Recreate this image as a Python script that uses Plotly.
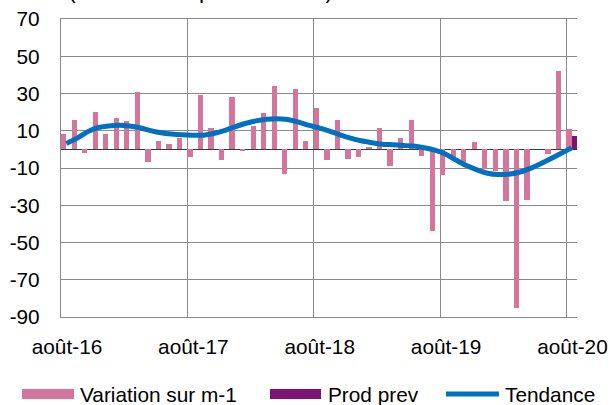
import numpy as np
import plotly.graph_objects as go

# ---- data (monthly, août-16 .. août-20) ----
tick_labels = ["août-16", "août-17", "août-18", "août-19", "août-20"]
y_tick_values = [70, 50, 30, 10, -10, -30, -50, -70, -90]

variation = [8, 16, -2, 20, 8.5, 17, 15.5, 31, -7, 4.5, 2.7, 6,
             -4, 29, 11.7, -5.5, 28.3, -1, 12.6, 19.7, 34, -13, 32.5, 4.4,
             22.2, -5.9, 16, -5.3, -4.3, 1.4, 11.7, -8.7, 6.2, 15.6, -3.4, -43.7,
             -13.7, -3.9, -6.6, 3.9, -10.5, -11.6, -27.9, -85.3, -27.2, 0, -2.7, 42.3,
             10.8]
prod_prev = [None] * 48 + [7.1]
tendance = [3.2, 5.9, 9.4, 11.7, 12.6, 13, 12.6, 11.6, 10.1, 8.9, 8.2, 7.8,
            7.6, 7.6, 8.5, 10.1, 12.1, 13.9, 15.3, 16.2, 16.5, 16, 14.8, 13,
            11.5, 9.8, 7.8, 6, 4.6, 3.6, 2.8, 2.5, 2.1, 1.8, 0.9, -0.4,
            -2.5, -5.7, -8.7, -11, -12.8, -13.5, -13.3, -12.3, -10.3, -7.8, -5, -2.1,
            0.8]

names = ["Variation sur m-1", "Prod prev", "Tendance"]
PINK = "#D5759B"
PURPLE = "#7D1273"
BLUE = "#0070C0"
GRID = "#898989"
FONT = "Liberation Sans, Arial, sans-serif"
FS = 20.8

n = len(variation)
month_idx = np.arange(n)
xc = month_idx + 0.5          # centre of each monthly slot
tick_pos = month_idx[::12]    # month boundaries where labels/grid sit

W, H = 610, 405
ML, MR, MT, MB = 61, 33, 19, 88
PW, PH = W - ML - MR, H - MT - MB


def px_x(p):
    return (p - ML) / PW


def px_y(p):
    return (MT + PH - p) / PH


fig = go.Figure()
fig.add_trace(go.Bar(x=xc, y=variation, name=names[0], marker_color=PINK,
                     marker_line_width=0, showlegend=False))
fig.add_trace(go.Bar(x=xc, y=prod_prev, name=names[1], marker_color=PURPLE,
                     marker_line_width=0, showlegend=False))
fig.add_trace(go.Scatter(x=xc, y=tendance, name=names[2], mode="lines",
                         line=dict(color=BLUE, width=5, shape="spline", smoothing=0.6),
                         showlegend=False))

fig.update_layout(
    width=W, height=H,
    margin=dict(l=ML, r=MR, t=MT, b=MB, pad=0, autoexpand=False),
    paper_bgcolor="white", plot_bgcolor="white",
    barmode="group", bargap=0, bargroupgap=0,
    font=dict(family=FONT, size=FS, color="#000000"),
)
fig.update_xaxes(
    range=[0, n], tickvals=tick_pos, ticktext=tick_labels, automargin=False,
    showgrid=True, gridcolor=GRID, gridwidth=1.3,
    showline=True, linecolor=GRID, linewidth=1.3, mirror=True,
    zeroline=False, ticks="", ticklabelshift=6, ticklabelstandoff=11,
    tickfont=dict(family=FONT, size=FS, color="#000000"),
)
fig.update_yaxes(
    range=[-90, 70], tickvals=y_tick_values, automargin=False,
    ticktext=[str(v) for v in y_tick_values],
    showgrid=True, gridcolor=GRID, gridwidth=1.3,
    showline=True, linecolor=GRID, linewidth=1.3,
    zeroline=True, zerolinecolor="#3a3a3a", zerolinewidth=1,
    ticks="", ticklabelstandoff=16,
    tickfont=dict(family=FONT, size=FS, color="#000000"),
)

# ---- custom legend (Excel-like wide swatches) ----
ly = 394
fig.add_shape(type="rect", xref="paper", yref="paper",
              x0=px_x(22), x1=px_x(74), y0=px_y(399), y1=px_y(389),
              fillcolor=PINK, line_width=0)
fig.add_shape(type="rect", xref="paper", yref="paper",
              x0=px_x(270), x1=px_x(321), y0=px_y(399), y1=px_y(389),
              fillcolor=PURPLE, line_width=0)
fig.add_shape(type="line", xref="paper", yref="paper",
              x0=px_x(446), x1=px_x(499), y0=px_y(ly), y1=px_y(ly),
              line=dict(color=BLUE, width=5))
for tx, label in [(78, names[0]), (326, names[1]), (503, names[2])]:
    fig.add_annotation(text=label, xref="paper", yref="paper",
                       x=px_x(tx), y=px_y(ly), xanchor="left", yanchor="middle",
                       showarrow=False, font=dict(family=FONT, size=FS, color="#000000"))

# ---- title (cut at the top edge, as in the source) ----
fig.add_annotation(text="(en solde d'opinions CVS)", xref="paper", yref="paper",
                   x=px_x(66), y=px_y(-10), xanchor="left", yanchor="middle",
                   showarrow=False, font=dict(family=FONT, size=23, color="#000000"))

fig.write_html("out.html", config={"displayModeBar": False},
               post_script="document.body.style.margin='0';document.body.style.padding='0';")
